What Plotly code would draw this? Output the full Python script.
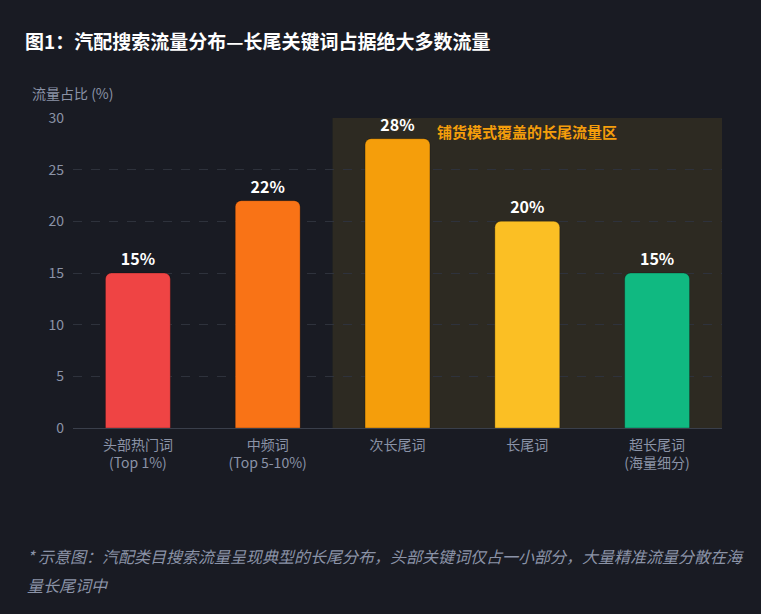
import plotly.graph_objects as go

# 数据
categories = ["头部热门词<br>(Top 1%)", "中频词<br>(Top 5-10%)", "次长尾词", "长尾词", "超长尾词<br>(海量细分)"]
shares = [15, 22, 28, 20, 15]
bar_colors = ["#ef4444", "#f97316", "#f59e0b", "#fbbf24", "#10b981"]
value_labels = [f"<b>{v}%</b>" for v in shares]

BG = "#191b23"
FONT = "Noto Sans CJK SC"
MUTED = "#8b93a7"

fig = go.Figure()

fig.add_trace(go.Bar(
    x=categories,
    y=shares,
    marker=dict(color=bar_colors, line=dict(color="rgba(0,0,0,0.25)", width=1)),
    width=0.5,
    text=value_labels,
    textposition="outside",
    textfont=dict(color="#ffffff", size=16, family=FONT),
    cliponaxis=False,
    hoverinfo="skip",
))

# 长尾流量区背景
fig.add_shape(
    type="rect", xref="x", yref="paper",
    x0=1.5, x1=4.5, y0=0, y1=1,
    fillcolor="#2d2a22", line=dict(width=0), layer="below",
)

fig.update_layout(
    width=761, height=614,
    paper_bgcolor=BG, plot_bgcolor=BG,
    font=dict(family=FONT, color=MUTED, size=14),
    margin=dict(l=73, r=39, t=118, b=186),
    barcornerradius=6,
    showlegend=False,
    title=dict(
        text="<b>图1：汽配搜索流量分布—长尾关键词占据绝大多数流量</b>",
        x=25 / 761, xanchor="left", y=1 - 42 / 614, yanchor="middle",
        font=dict(size=19, color="#ffffff", family=FONT),
    ),
    xaxis=dict(
        showgrid=False, showline=True, linecolor="#3a3f4b",
        tickfont=dict(size=14, color=MUTED), ticks="", ticklabelstandoff=4,
    ),
    yaxis=dict(
        range=[0, 30], dtick=5,
        gridcolor="#2e323c", griddash="dash", gridwidth=1,
        zeroline=False, ticks="", ticklabelstandoff=8,
        tickfont=dict(size=14, color=MUTED),
    ),
    annotations=[
        dict(text="流量占比 (%)", xref="paper", yref="paper",
             x=-43 / 649, y=1 + 25 / 310, xanchor="left", yanchor="middle",
             showarrow=False, font=dict(size=14, color=MUTED)),
        dict(text="<b>铺货模式覆盖的长尾流量区</b>", xref="x", yref="y",
             x=2.29, y=28.65, xanchor="left", yanchor="middle",
             showarrow=False, font=dict(size=15, color="#f59e0b")),
        dict(text="<i>* 示意图：汽配类目搜索流量呈现典型的长尾分布，头部关键词仅占一小部分，大量精准流量分散在海</i>",
             xref="paper", yref="paper",
             x=-48 / 649, y=-(556 - 428) / 310, xanchor="left", yanchor="middle",
             showarrow=False, font=dict(size=16, color=MUTED)),
        dict(text="<i>量长尾词中</i>",
             xref="paper", yref="paper",
             x=-48 / 649, y=-(585 - 428) / 310, xanchor="left", yanchor="middle",
             showarrow=False, font=dict(size=16, color=MUTED)),
    ],
)

fig.write_html(
    "out.html",
    config={"displayModeBar": False},
    post_script="document.body.style.margin='0';document.body.style.background='#191b23';",
)
